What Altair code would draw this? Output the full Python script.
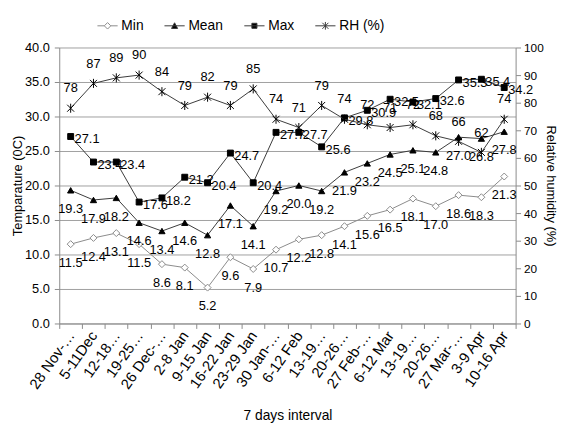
import json
import altair as alt
import pandas as pd

weeks = ["28 Nov-4 Dec", "5-11Dec", "12-18 Dec", "19-25 Dec", "26 Dec-1 Jan",
         "2-8 Jan", "9-15 Jan", "16-22 Jan", "23-29 Jan", "30 Jan-5 Feb",
         "6-12 Feb", "13-19 Feb", "20-26 Feb", "27 Feb-5 Mar", "6-12 Mar",
         "13-19 Mar", "20-26 Mar", "27 Mar-2 Apr", "3-9 Apr", "10-16 Apr"]
tick_labels = ["28 Nov-…", "5-11Dec", "12-18…", "19-25…", "26 Dec-…",
               "2-8 Jan", "9-15 Jan", "16-22 Jan", "23-29 Jan", "30 Jan-…",
               "6-12 Feb", "13-19…", "20-26…", "27 Feb-…", "6-12 Mar",
               "13-19…", "20-26…", "27 Mar-…", "3-9 Apr", "10-16 Apr"]

min_t = [11.5, 12.4, 13.1, 11.5, 8.6, 8.1, 5.2, 9.6, 7.9, 10.7,
         12.2, 12.8, 14.1, 15.6, 16.5, 18.1, 17.0, 18.6, 18.3, 21.3]
mean_t = [19.3, 17.9, 18.2, 14.6, 13.4, 14.6, 12.8, 17.1, 14.1, 19.2,
          20.0, 19.2, 21.9, 23.2, 24.5, 25.1, 24.8, 27.0, 26.8, 27.8]
max_t = [27.1, 23.4, 23.4, 17.6, 18.2, 21.2, 20.4, 24.7, 20.4, 27.7,
         27.7, 25.6, 29.8, 30.9, 32.5, 32.1, 32.6, 35.3, 35.4, 34.2]
rh = [78, 87, 89, 90, 84, 79, 82, 79, 85, 74,
      71, 79, 74, 72, 71, 72, 68, 66, 62, 74]

series_names = ["Min", "Mean", "Max", "RH (%)"]

FONT = "Liberation Sans, Arial, sans-serif"
LINE = "#3a3a3a"
GRAY = "#8a8a8a"

rows = []
for name, vals in [("Min", min_t), ("Mean", mean_t), ("Max", max_t)]:
    for w, v in zip(weeks, vals):
        rows.append({"week": w, "series": name, "value": v, "label": f"{v:.1f}"})
temp_df = pd.DataFrame(rows)
rh_df = pd.DataFrame({"week": weeks, "series": "RH (%)", "value": rh,
                      "label": [str(v) for v in rh]})

label_expr = (json.dumps(tick_labels, ensure_ascii=False) + "[indexof(" +
              json.dumps(weeks, ensure_ascii=False) + ", datum.value)]")

x_enc = alt.X("week:N", sort=weeks,
              scale=alt.Scale(type="band", domain=weeks, paddingInner=0, paddingOuter=0),
              axis=alt.Axis(title="7 days interval", labelAngle=-55, labelAlign="right",
                            labelBaseline="middle", labelExpr=label_expr, tickBand="extent",
                            tickSize=5, labelPadding=4, titlePadding=18, labelFontSize=15,
                            titleFontSize=14, grid=False))

y_temp = alt.Y("value:Q", scale=alt.Scale(domain=[0, 40]),
               axis=alt.Axis(title="Temparature (0C)", values=list(range(0, 41, 5)),
                             format=".1f", grid=True, tickSize=5, labelPadding=5,
                             titlePadding=0))
y_rh = alt.Y("value:Q", scale=alt.Scale(domain=[0, 100]),
             axis=alt.Axis(title="Relative humidity (%)", orient="right",
                           values=list(range(0, 101, 10)), grid=False, tickSize=5,
                           labelPadding=3, titlePadding=0, labelFontSize=12))

styles = {
    "Min": dict(line=GRAY, shape="diamond", fill="white", stroke=GRAY, size=50,
                dx=0, dy=19, align="center", baseline="middle"),
    "Mean": dict(line=LINE, shape="triangle-up", fill="black", stroke="black", size=40,
                 dx=0, dy=19, align="center", baseline="middle"),
    "Max": dict(line=LINE, shape="square", fill="black", stroke="black", size=36,
                dx=4, dy=3, align="left", baseline="middle"),
    "RH (%)": dict(line=LINE, shape="M-1,-1L1,1M-1,1L1,-1M0,-1.3L0,1.3", fill="black",
                   stroke="black", size=50, dx=0, dy=-20, align="center", baseline="middle"),
}


def series_layers(df, name, y):
    s = styles[name]
    base = alt.Chart(df).transform_filter(alt.datum.series == name)
    line = base.mark_line(color=s["line"], strokeWidth=1).encode(x=x_enc, y=y)
    pts = base.mark_point(shape=s["shape"], fill=s["fill"], stroke=s["stroke"],
                          filled=False, fillOpacity=1, opacity=1, strokeWidth=1,
                          size=s["size"]).encode(x=x_enc, y=y)
    txt = base.mark_text(font=FONT, fontSize=13, color="black", dx=s["dx"], dy=s["dy"],
                         align=s["align"], baseline=s["baseline"]).encode(
        x=x_enc, y=y, text="label:N")
    return [line, pts, txt]


legend_paths = [
    "M-1,0L-0.32,0M0.32,0L1,0M0,-0.32L0.32,0L0,0.32L-0.32,0Z",
    "M-1,0L1,0M0,-0.3L0.3,0.26L-0.3,0.26Z",
    "M-1,0L1,0M-0.25,-0.25L0.25,-0.25L0.25,0.25L-0.25,0.25Z",
    "M-1,0L1,0M-0.3,-0.3L0.3,0.3M-0.3,0.3L0.3,-0.3M0,-0.38L0,0.38",
]
legend_df = pd.DataFrame({"week": weeks[:4], "series": series_names, "value": [0, 0, 0, 0]})
legend_layer = alt.Chart(legend_df).mark_point(opacity=0, filled=True).encode(
    x=x_enc,
    y=y_temp,
    shape=alt.Shape("series:N", sort=series_names,
                    scale=alt.Scale(domain=series_names, range=legend_paths),
                    legend=alt.Legend(title=None, orient="none", direction="horizontal",
                                      legendX=38, legendY=-33, symbolSize=420,
                                      symbolStrokeWidth=1, symbolOpacity=1,
                                      labelFont=FONT, labelFontSize=14, labelOffset=3,
                                      columnPadding=18)),
    fill=alt.Fill("series:N", sort=series_names,
                  scale=alt.Scale(domain=series_names, range=["white", "black", "black", "black"])),
    stroke=alt.Stroke("series:N", sort=series_names,
                      scale=alt.Scale(domain=series_names, range=[GRAY, LINE, LINE, LINE])),
)

temp_layers = []
for n in ["Min", "Mean", "Max"]:
    temp_layers += series_layers(temp_df, n, y_temp)
temp = alt.layer(*temp_layers, legend_layer)
rhl = alt.layer(*series_layers(rh_df, "RH (%)", y_rh))

chart = alt.layer(temp, rhl).resolve_scale(y="independent").properties(
    width=463, height=280,
    autosize=alt.AutoSizeParams(type="none"),
    padding={"left": 52, "top": 37, "right": 43, "bottom": 106},
).configure_view(stroke=None).configure_axis(
    labelFont=FONT, titleFont=FONT, labelFontSize=13, titleFontSize=13,
    titleFontWeight="normal", labelColor="black", titleColor="black",
    domainColor=GRAY, tickColor=GRAY, gridColor="#a0a0a0", gridWidth=1,
).configure_legend(labelColor="black")

chart.save("out.html", embed_options={"renderer": "svg", "actions": False})
